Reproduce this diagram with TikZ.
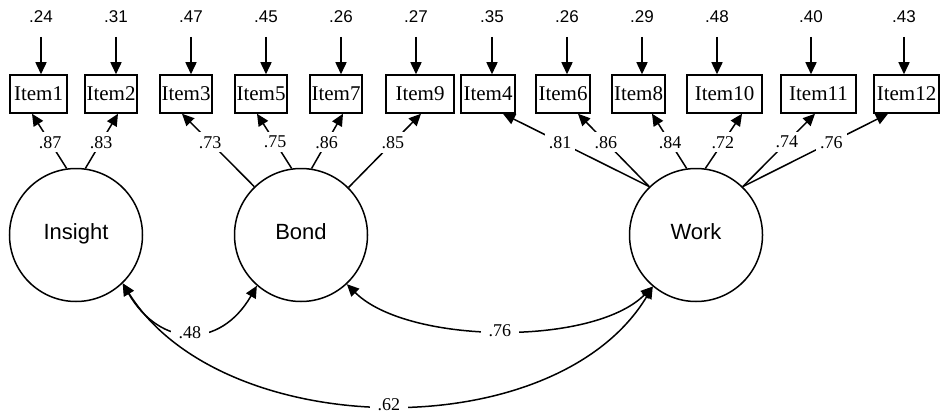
\documentclass[tikz,border=0pt]{standalone}
\usepackage{fontspec}
\setmainfont{Liberation Serif}
\newfontfamily\sansf{Liberation Sans}
\usetikzlibrary{arrows.meta}
\begin{document}
\begin{tikzpicture}[x=1pt,y=1pt,
  itembox/.style={draw,line width=1.5pt,minimum height=38pt,inner sep=0pt,font=\fontsize{21}{25}\selectfont},
  latent/.style={draw,circle,line width=1.5pt,minimum size=133pt,inner sep=0pt,font=\sansf\fontsize{22}{26}\selectfont},
  errlab/.style={inner sep=0pt,font=\sansf\fontsize{17}{20}\selectfont},
  lab/.style={fill=white,inner sep=4pt,font=\fontsize{18}{21}\selectfont},
  arr/.style={line width=1.5pt,-{Triangle[length=12pt,width=11pt]}},
  darr/.style={line width=1.5pt,{Triangle[length=12pt,width=11pt]}-{Triangle[length=12pt,width=11pt]}}]
\useasboundingbox (0,0) rectangle (941,413);
% items
\node[itembox,minimum width=57pt] (i1) at (38.5,319) {Item1};
\node[itembox,minimum width=52pt] (i2) at (111,319) {Item2};
\node[itembox,minimum width=52pt] (i3) at (186,319) {Item3};
\node[itembox,minimum width=52pt] (i5) at (261,319) {Item5};
\node[itembox,minimum width=52pt] (i7) at (336,319) {Item7};
\node[itembox,minimum width=68pt] (i9) at (420,319) {Item9};
\node[itembox,minimum width=54pt] (i4) at (488,319) {Item4};
\node[itembox,minimum width=54pt] (i6) at (563,319) {Item6};
\node[itembox,minimum width=53pt] (i8) at (638.5,319) {Item8};
\node[itembox,minimum width=75pt] (i10) at (724.5,319) {Item10};
\node[itembox,minimum width=75pt] (i11) at (818.5,319) {Item11};
\node[itembox,minimum width=65pt] (i12) at (906.5,319) {Item12};
% error labels
\node[errlab] (e1) at (41,396) {.24};
\node[errlab] (e2) at (116,396) {.31};
\node[errlab] (e3) at (191,396) {.47};
\node[errlab] (e5) at (266,396) {.45};
\node[errlab] (e7) at (341,396) {.26};
\node[errlab] (e9) at (416,396) {.27};
\node[errlab] (e4) at (492,396) {.35};
\node[errlab] (e6) at (567,396) {.26};
\node[errlab] (e8) at (642,396) {.29};
\node[errlab] (e10) at (717,396) {.48};
\node[errlab] (e11) at (811,396) {.40};
\node[errlab] (e12) at (904,396) {.43};
\foreach \e/\i in {e1/i1,e2/i2,e3/i3,e5/i5,e7/i7,e9/i9,e4/i4,e6/i6,e8/i8,e10/i10,e11/i11,e12/i12}
  \draw[arr] (\e) ++(0,-20) -- (\e |- \i.north);
% latents
\node[latent] (ins) at (76,178) {\raisebox{7pt}{Insight}};
\node[latent] (bond) at (301,178) {\raisebox{7pt}{Bond}};
\node[latent] (work) at (696,178) {\raisebox{7pt}{Work}};
% loadings
\draw[arr] (ins.98) -- node[lab,pos=0.48] {.87} (32,0 |- i1.south);
\draw[arr] (ins.82) -- node[lab,pos=0.48] {.83} (118,0 |- i2.south);
\draw[arr] (bond.134) -- node[lab,pos=0.61] {.73} (182,0 |- i3.south);
\draw[arr] (bond.98) -- node[lab,pos=0.48] {.75} (257,0 |- i5.south);
\draw[arr] (bond.81) -- node[lab,pos=0.48] {.86} (343,0 |- i7.south);
\draw[arr] (bond.45) -- node[lab,pos=0.61] {.85} (421,0 |- i9.south);
\draw[arr] (work.134) -- node[lab,pos=0.61] {.81} (503,0 |- i4.south);
\draw[arr] (work.134) -- node[lab,pos=0.61] {.86} (578,0 |- i6.south);
\draw[arr] (work.98) -- node[lab,pos=0.48] {.84} (652,0 |- i8.south);
\draw[arr] (work.82) -- node[lab,pos=0.48] {.72} (742,0 |- i10.south);
\draw[arr] (work.46) -- node[lab,pos=0.61] {.74} (815,0 |- i11.south);
\draw[arr] (work.46) -- node[lab,pos=0.61] {.76} (888,0 |- i12.south);
% covariances
\draw[darr] (ins.-46) .. controls +(-60:74) and +(-120:74) .. node[lab,inner xsep=8pt] {.48} (bond.-131);
\draw[darr] (bond.-47) .. controls +(-45:85) and +(-135:85) .. node[lab,inner xsep=8pt] {.76} (work.-130);
\draw[darr] (ins.-46) .. controls +(-58:188) and +(-121:188) .. node[lab,inner xsep=8pt,inner ysep=0.5pt] {.62} (work.-130);
\end{tikzpicture}
\end{document}
